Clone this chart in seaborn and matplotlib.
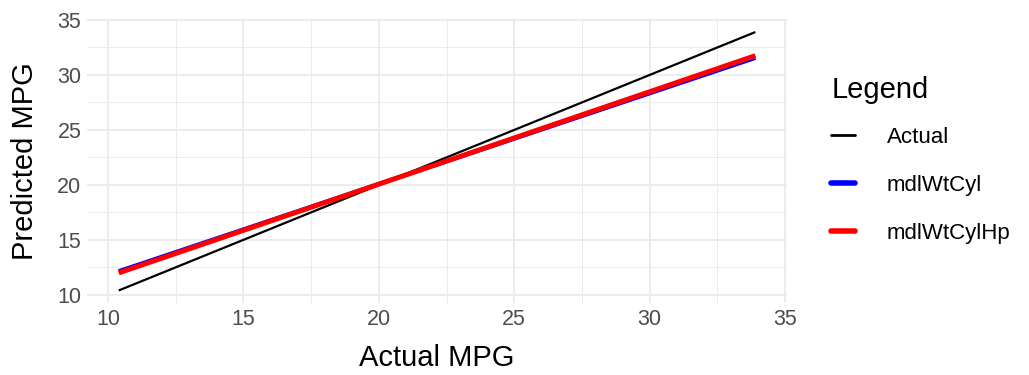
import matplotlib
matplotlib.use("Agg")
import matplotlib.pyplot as plt
import seaborn as sns
import pandas as pd
from matplotlib.lines import Line2D

# data: endpoints of each fitted line (actual vs predicted MPG)
actual_mpg = [10.4, 33.9]
pred_actual = [10.4, 33.9]
pred_wt_cyl = [12.15, 31.55]
pred_wt_cyl_hp = [12.0, 31.75]

series_names = ["Actual", "mdlWtCyl", "mdlWtCylHp"]
series_colors = ["black", "blue", "red"]
series_widths = [1.6, 3.0, 3.6]

df = pd.DataFrame({
    "x": actual_mpg * 3,
    "y": pred_actual + pred_wt_cyl + pred_wt_cyl_hp,
    "series": [s for s in series_names for _ in actual_mpg],
})

sns.set_style("white")
plt.rcParams["font.family"] = ["Liberation Sans", "DejaVu Sans"]

fig = plt.figure(figsize=(10.29, 3.75), dpi=100)
ax = fig.add_axes([0.0845, 0.191, 0.765 - 0.0845, 0.949 - 0.191])

# draw order: Actual, blue, red on top
for name, col, lw in zip(series_names, series_colors, series_widths):
    sub = df[df["series"] == name]
    sns.lineplot(data=sub, x="x", y="y", color=col, linewidth=lw, ax=ax,
                 legend=False, solid_capstyle="butt")

ax.set_xlim(9.225, 35.075)
ax.set_ylim(9.225, 35.075)
ax.set_xticks([10, 15, 20, 25, 30, 35])
ax.set_yticks([10, 15, 20, 25, 30, 35])
ax.set_xticks([12.5, 17.5, 22.5, 27.5, 32.5], minor=True)
ax.set_yticks([12.5, 17.5, 22.5, 27.5, 32.5], minor=True)
ax.grid(which="major", color="#EBEBEB", linewidth=1.3)
ax.grid(which="minor", color="#EBEBEB", linewidth=0.7)
ax.set_axisbelow(True)
for sp in ax.spines.values():
    sp.set_visible(False)
ax.tick_params(axis="both", which="both", length=0, labelsize=15.5,
               labelcolor="#4D4D4D", pad=4)

ax.set_xlabel("Actual MPG", fontsize=21, color="black", labelpad=10)
ax.set_ylabel("Predicted MPG", fontsize=21, color="black", labelpad=13)

handles = [Line2D([0], [0], color=c, linewidth=2.0 if n == "Actual" else 4.0)
           for n, c in zip(series_names, series_colors)]
leg = fig.legend(handles, series_names, title="Legend", loc="upper left",
                 bbox_to_anchor=(0.797, 0.828), frameon=False, fontsize=16,
                 title_fontsize=21, handlelength=1.05, handletextpad=1.45,
                 labelspacing=1.2, borderpad=0)
leg._legend_box.align = "left"
leg._legend_box.sep = 17
leg.get_title().set_color("black")
for t in leg.get_texts():
    t.set_color("black")

fig.savefig("out.png", dpi=100)
